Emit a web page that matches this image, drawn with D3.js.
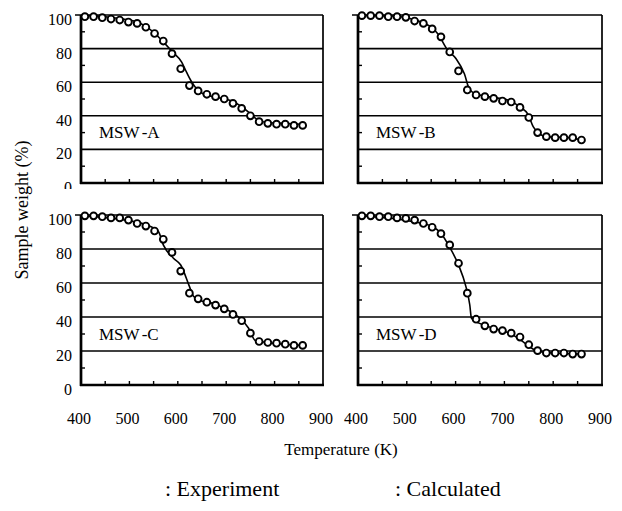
<!DOCTYPE html>
<html>
<head>
<meta charset="utf-8">
<script src="https://cdn.jsdelivr.net/npm/d3@7"></script>
<style>
  body { margin: 0; background: #fff; }
  svg text { font-family: "Liberation Serif", "Times New Roman", serif; fill: #000; }
</style>
</head>
<body>
<svg id="chart" width="622" height="511"></svg>
<script>
// measured points (same temperatures in all four panels)
var temps = [408, 426, 444, 462, 480, 498, 516, 534, 552, 570, 588, 606, 624,
             642, 660, 678, 696, 714, 732, 750, 768, 786, 804, 822, 840, 858];
var expA = [99, 99, 98.4, 97.6, 97, 95.8, 95, 92.7, 89, 84.5, 77, 68, 58,
            54.8, 52.8, 51.4, 50, 47.4, 44.4, 40, 36.5, 35.5, 35, 35, 34.3, 34.3];
var expB = [99.6, 99.6, 99.6, 99, 99, 98.6, 96.4, 95, 91.7, 87, 78, 66.7, 55.4,
            52.4, 51.4, 50.4, 48.8, 48.2, 45, 39, 30, 27.6, 27, 27, 27, 25.6];
var expC = [99.5, 99.5, 99, 98.3, 98.3, 97, 95, 93.5, 90.6, 85.7, 78, 67, 54,
            50.7, 48.7, 47, 44.8, 41.5, 37.8, 30.5, 25.6, 25, 24.6, 24, 23.3, 23.3];
var expD = [99.5, 99.5, 99, 99, 98.3, 98, 97, 95, 92.8, 89, 82.4, 71.6, 54,
            38.7, 34.8, 32.9, 32, 30.5, 28.2, 23.7, 20.2, 18.8, 18.8, 18.8, 18.2, 18.2];

// calculated curves [T, weight]
var calcA = [[400, 99.7], [450, 99], [490, 97.5], [515, 96], [532, 93.5], [549, 90], [570, 84],
             [589, 78], [608, 72], [618, 66], [629, 60], [639, 56], [653, 53], [680, 51],
             [715, 48.4], [732, 45.4], [749, 41.5], [763, 38], [784, 36], [818, 35.5], [856, 35]];
var calcB = [[400, 99.8], [470, 99.4], [517, 97], [553, 92], [563, 89], [584, 79], [601, 74],
             [618, 65], [628, 56], [639, 53.4], [666, 51.4], [707, 49.4], [731, 45.4],
             [749, 40.5], [759, 33.5], [769, 30], [786, 27.6], [831, 27], [858, 25.6]];
var calcC = [[400, 99.6], [498, 96.7], [532, 94.5], [560, 90.2], [570, 82.4], [591, 74.6],
             [606, 70.6], [624, 58], [632, 52.4], [646, 49.7], [677, 47.7], [695, 45.2],
             [714, 42.3], [732, 38.4], [746, 33.5], [760, 26.2], [784, 25], [856, 23.3]];
var calcD = [[400, 99.6], [515, 96], [550, 93.5], [570, 89.2], [587, 81.4], [606, 70.6],
             [621, 58], [629, 47.2], [632.5, 39.3], [648, 36.4], [676, 33.5], [710, 30.5],
             [731, 27], [751, 22.7], [765, 20.2], [799, 18.8], [854, 18.2]];

var panelNames = [["MSW", "-A"], ["MSW", "-B"], ["MSW", "-C"], ["MSW", "-D"]];
var xTicks = [400, 500, 600, 700, 800, 900];
var yTicks = [0, 20, 40, 60, 80, 100];

var expAll = [expA, expB, expC, expD];
var calcAll = [calcA, calcB, calcC, calcD];

var svg = d3.select("#chart");
var cols = [[81, 323], [358, 602]];
var rows = [[15, 183], [215, 385]];

function drawPanel(i) {
    var c = cols[i % 2], r = rows[Math.floor(i / 2)];
    var x = d3.scaleLinear().domain([400, 900]).range(c);
    var y = d3.scaleLinear().domain([0, 100]).range([r[1], r[0]]);
    var g = svg.append("g").attr("class", "panel");

    // grid lines
    g.selectAll("line.grid").data([20, 40, 60, 80]).enter()
        .append("line")
        .attr("x1", c[0]).attr("x2", c[1])
        .attr("y1", function (d) { return y(d); })
        .attr("y2", function (d) { return y(d); })
        .attr("stroke", "#000").attr("stroke-width", 1.6);

    // minor ticks, pointing inside
    g.selectAll("line.ytk").data([10, 30, 50, 70, 90]).enter()
        .append("line")
        .attr("x1", c[0]).attr("x2", c[0] + 4)
        .attr("y1", function (d) { return y(d); })
        .attr("y2", function (d) { return y(d); })
        .attr("stroke", "#000").attr("stroke-width", 1.4);
    g.selectAll("line.xtk").data(d3.range(450, 900, 50)).enter()
        .append("line")
        .attr("x1", function (d) { return x(d); })
        .attr("x2", function (d) { return x(d); })
        .attr("y1", r[1]).attr("y2", r[1] - 4)
        .attr("stroke", "#000").attr("stroke-width", 1.4);

    // frame: top + right thin, left + bottom thick
    g.append("line").attr("x1", c[0] - 6).attr("x2", c[1])
        .attr("y1", r[0]).attr("y2", r[0]).attr("stroke", "#000").attr("stroke-width", 1.7);
    g.append("line").attr("x1", c[1]).attr("x2", c[1])
        .attr("y1", r[0]).attr("y2", r[1]).attr("stroke", "#000").attr("stroke-width", 1.7);
    g.append("line").attr("x1", c[0]).attr("x2", c[0])
        .attr("y1", r[0]).attr("y2", r[1] + 1).attr("stroke", "#000").attr("stroke-width", 2.7);
    g.append("line").attr("x1", c[0] - 1).attr("x2", c[1] + 1)
        .attr("y1", r[1]).attr("y2", r[1]).attr("stroke", "#000").attr("stroke-width", 2.7);

    // calculated line
    var line = d3.line()
        .x(function (d) { return x(d[0]); })
        .y(function (d) { return y(d[1]); })
        .curve(d3.curveMonotoneX);
    g.append("path").datum(calcAll[i])
        .attr("d", line)
        .attr("fill", "none").attr("stroke", "#000").attr("stroke-width", 1.6);

    // experiment circles
    g.selectAll("circle").data(expAll[i]).enter()
        .append("circle")
        .attr("cx", function (d, k) { return x(temps[k]); })
        .attr("cy", function (d) { return y(d); })
        .attr("r", 3.4)
        .attr("fill", "#fff").attr("stroke", "#000").attr("stroke-width", 1.9);

    var lab = g.append("text")
        .attr("x", c[0] + 18).attr("y", y(26.5))
        .attr("font-size", 17);
    lab.append("tspan").text(panelNames[i][0]);
    lab.append("tspan").attr("dx", 3).text(panelNames[i][1]);

    if (i % 2 == 0) {
        g.selectAll("text.ylab").data(yTicks).enter()
            .append("text")
            .attr("x", c[0] - 9)
            .attr("y", function (d) { return y(d) + 4.5; })
            .attr("text-anchor", "end")
            .attr("dominant-baseline", "central")
            .attr("font-size", 16)
            .text(function (d) { return d; });
    }
    if (i >= 2) {
        g.selectAll("text.xlab").data(xTicks).enter()
            .append("text")
            .attr("x", function (d) { return x(d) - 2; })
            .attr("y", 424)
            .attr("text-anchor", "middle")
            .attr("font-size", 16)
            .text(function (d) { return d; });
    }
}

drawPanel(0);
drawPanel(1);
// lower charts sit on a white sheet that cuts the bottom "0" of the top row
svg.append("rect").attr("x", 0).attr("y", 189).attr("width", 622).attr("height", 322).attr("fill", "#fff");
drawPanel(2);
drawPanel(3);

svg.append("text")
    .attr("transform", "translate(22,210) rotate(-90)")
    .attr("text-anchor", "middle")
    .attr("dominant-baseline", "central")
    .attr("font-size", 18)
    .text("Sample weight (%)");

svg.append("text")
    .attr("x", 341).attr("y", 455)
    .attr("text-anchor", "middle")
    .attr("font-size", 17)
    .text("Temperature (K)");

svg.append("text").attr("x", 165).attr("y", 496).attr("font-size", 22).text(":  Experiment");
svg.append("text").attr("x", 395).attr("y", 496).attr("font-size", 22).text(": Calculated");
</script>
</body>
</html>
